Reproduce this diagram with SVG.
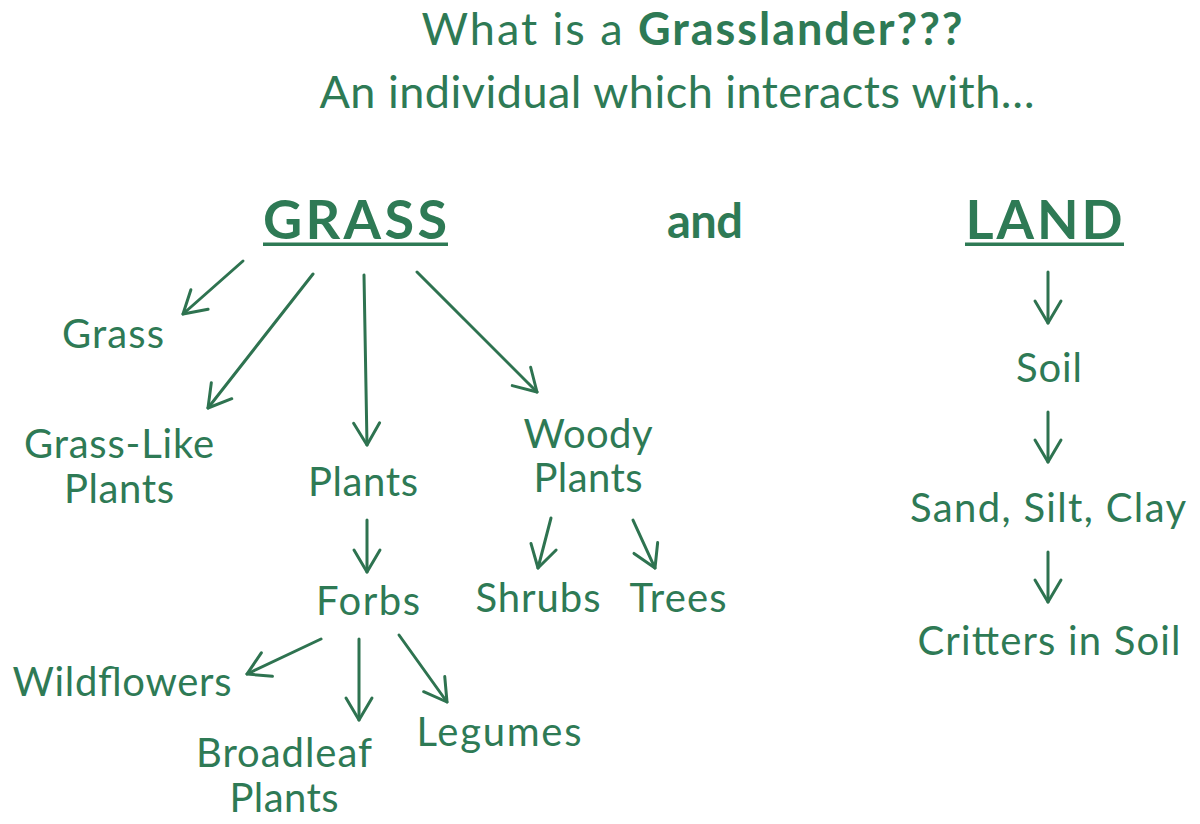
<svg xmlns="http://www.w3.org/2000/svg" width="1200" height="824" viewBox="0 0 1200 824">
<defs>
<style>
text{font-family:Lato,"Noto Sans","Liberation Sans",sans-serif;fill:#2e7a55;text-anchor:middle;font-size:40px}
.t{font-size:45px}
.h{font-size:54px;font-weight:bold}
.a{font-size:47px;font-weight:bold}
.ul{fill:#2e7a55}
#connectors line{stroke:#2e7350;stroke-width:3;fill:none;stroke-linecap:round;marker-end:url(#ah)}
</style>
<marker id="ah" markerUnits="userSpaceOnUse" markerWidth="40" markerHeight="40" viewBox="-30 -20 40 40" refX="0" refY="0" orient="auto">
<path d="M-22,-13 L0,0 L-22,13" fill="none" stroke="#2e7350" stroke-width="3" stroke-linecap="round" stroke-linejoin="round"/>
</marker>
</defs>
<rect width="1200" height="824" fill="#ffffff"/>
<g id="title">
<text class="t" x="692" y="45" textLength="541" lengthAdjust="spacing">What is a <tspan font-weight="bold">Grasslander???</tspan></text>
<text class="t" x="677" y="108" textLength="715" lengthAdjust="spacing">An individual which interacts with…</text>
</g>
<g id="grass-root"><text class="h" x="355" y="239" textLength="184" lengthAdjust="spacing">GRASS</text><rect class="ul" x="263" y="242.5" width="185" height="3.5"/></g>
<g id="and"><text class="a" x="705" y="238" textLength="76" lengthAdjust="spacing">and</text></g>
<g id="land-root"><text class="h" x="1044" y="239" textLength="157" lengthAdjust="spacing">LAND</text><rect class="ul" x="965" y="242.5" width="159" height="3.5"/></g>
<g id="grass"><text x="113" y="348" textLength="102" lengthAdjust="spacing">Grass</text></g>
<g id="grass-like"><text x="119" y="458" textLength="190" lengthAdjust="spacing">Grass-Like</text><text x="119" y="503" textLength="110" lengthAdjust="spacing">Plants</text></g>
<g id="plants"><text x="363" y="496" textLength="110" lengthAdjust="spacing">Plants</text></g>
<g id="woody"><text x="588" y="448" textLength="129" lengthAdjust="spacing">Woody</text><text x="588" y="492" textLength="109" lengthAdjust="spacing">Plants</text></g>
<g id="shrubs"><text x="538" y="612" textLength="125" lengthAdjust="spacing">Shrubs</text></g>
<g id="trees"><text x="678" y="612" textLength="97" lengthAdjust="spacing">Trees</text></g>
<g id="forbs"><text x="368" y="615" textLength="104" lengthAdjust="spacing">Forbs</text></g>
<g id="wildflowers"><text x="122" y="696" textLength="219" lengthAdjust="spacing">Wildflowers</text></g>
<g id="broadleaf"><text x="284" y="767" textLength="176" lengthAdjust="spacing">Broadleaf</text><text x="284" y="812" textLength="109" lengthAdjust="spacing">Plants</text></g>
<g id="legumes"><text x="499" y="746" textLength="165" lengthAdjust="spacing">Legumes</text></g>
<g id="soil"><text x="1049" y="382" textLength="66" lengthAdjust="spacing">Soil</text></g>
<g id="sand"><text x="1048" y="522" textLength="276" lengthAdjust="spacing">Sand, Silt, Clay</text></g>
<g id="critters"><text x="1049" y="655" textLength="263" lengthAdjust="spacing">Critters in Soil</text></g>
<g id="connectors">
<line x1="243" y1="261" x2="183" y2="314"/>
<line x1="313" y1="274" x2="208" y2="408"/>
<line x1="364" y1="275" x2="367" y2="445"/>
<line x1="417" y1="272" x2="537" y2="392"/>
<line x1="1048" y1="272" x2="1048" y2="323"/>
<line x1="1048" y1="412" x2="1048" y2="462"/>
<line x1="1048" y1="552" x2="1048" y2="602"/>
<line x1="367" y1="520" x2="367" y2="572"/>
<line x1="551" y1="518" x2="538" y2="568"/>
<line x1="633" y1="520" x2="655" y2="568"/>
<line x1="321" y1="639" x2="247" y2="674"/>
<line x1="359" y1="639" x2="359" y2="720"/>
<line x1="399" y1="635" x2="447" y2="702"/>
</g>
</svg>
